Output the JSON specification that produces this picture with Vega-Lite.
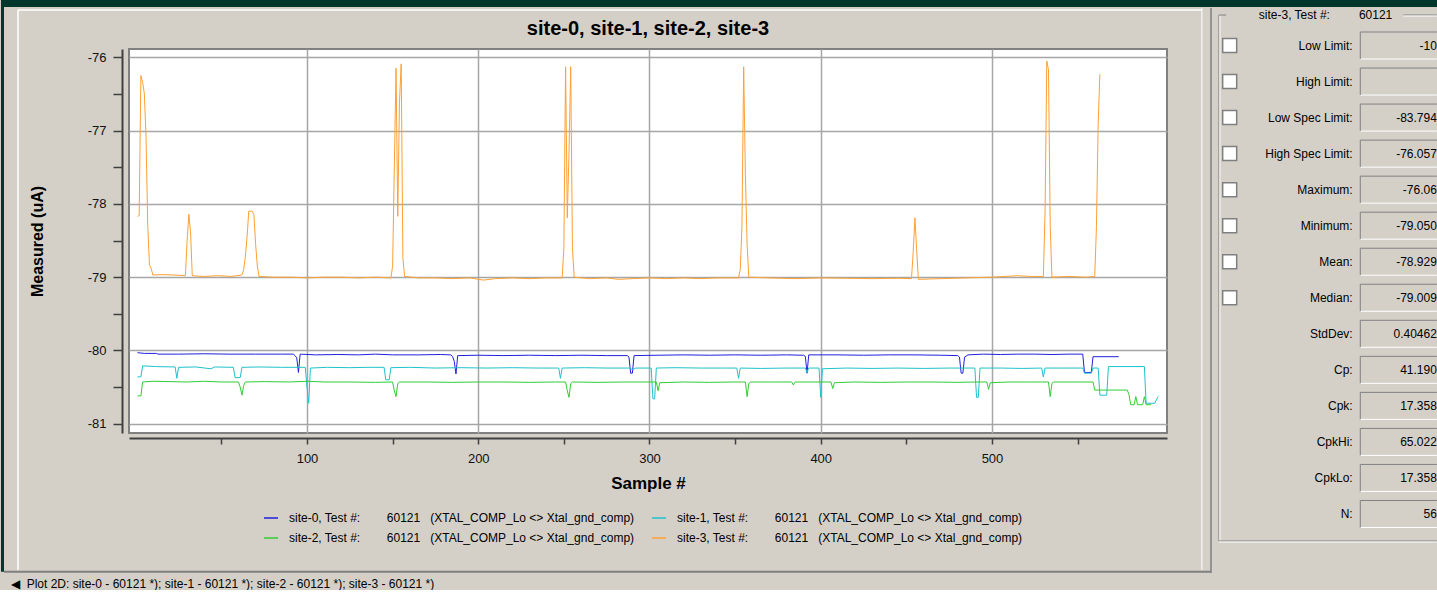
{
"$schema":"https://vega.github.io/schema/vega-lite/v6.json",
"background":"#D4D0C8",
"padding":{"left":0,"top":0,"right":0,"bottom":0},
"bounds":"flush",
"spacing":47,
"config":{"font":"Liberation Sans","view":{"stroke":null}},
"title":{"text":"◀\u00a0\u00a0Plot 2D: site-0 - 60121 *); site-1 - 60121 *); site-2 - 60121 *); site-3 - 60121 *)","orient":"bottom","anchor":"start","frame":"bounds","fontSize":12,"fontWeight":"normal","color":"#000000","offset":5,"dx":10},
"datasets":{
"lines":[
{"site":"site-0","s":1,"v":-80.03},{"site":"site-0","s":5,"v":-80.04},{"site":"site-0","s":12,"v":-80.04},{"site":"site-0","s":13,"v":-80.05},{"site":"site-0","s":25,"v":-80.05},{"site":"site-0","s":40,"v":-80.045},{"site":"site-0","s":55,"v":-80.05},{"site":"site-0","s":70,"v":-80.05},{"site":"site-0","s":85,"v":-80.05},{"site":"site-0","s":92,"v":-80.05},{"site":"site-0","s":93,"v":-80.07},{"site":"site-0","s":94,"v":-80.1},{"site":"site-0","s":95,"v":-80.3},{"site":"site-0","s":96,"v":-80.05},{"site":"site-0","s":105,"v":-80.06},{"site":"site-0","s":118,"v":-80.055},{"site":"site-0","s":130,"v":-80.06},{"site":"site-0","s":140,"v":-80.05},{"site":"site-0","s":150,"v":-80.06},{"site":"site-0","s":165,"v":-80.06},{"site":"site-0","s":178,"v":-80.055},{"site":"site-0","s":184,"v":-80.06},{"site":"site-0","s":185,"v":-80.08},{"site":"site-0","s":186,"v":-80.15},{"site":"site-0","s":187,"v":-80.32},{"site":"site-0","s":188,"v":-80.07},{"site":"site-0","s":200,"v":-80.065},{"site":"site-0","s":215,"v":-80.07},{"site":"site-0","s":230,"v":-80.065},{"site":"site-0","s":245,"v":-80.07},{"site":"site-0","s":260,"v":-80.065},{"site":"site-0","s":275,"v":-80.07},{"site":"site-0","s":287,"v":-80.07},{"site":"site-0","s":288,"v":-80.09},{"site":"site-0","s":289,"v":-80.31},{"site":"site-0","s":290,"v":-80.31},{"site":"site-0","s":291,"v":-80.07},{"site":"site-0","s":305,"v":-80.065},{"site":"site-0","s":320,"v":-80.06},{"site":"site-0","s":335,"v":-80.065},{"site":"site-0","s":350,"v":-80.06},{"site":"site-0","s":365,"v":-80.065},{"site":"site-0","s":380,"v":-80.06},{"site":"site-0","s":390,"v":-80.065},{"site":"site-0","s":391,"v":-80.08},{"site":"site-0","s":392,"v":-80.31},{"site":"site-0","s":393,"v":-80.06},{"site":"site-0","s":410,"v":-80.06},{"site":"site-0","s":425,"v":-80.065},{"site":"site-0","s":440,"v":-80.06},{"site":"site-0","s":455,"v":-80.06},{"site":"site-0","s":470,"v":-80.065},{"site":"site-0","s":480,"v":-80.07},{"site":"site-0","s":481,"v":-80.09},{"site":"site-0","s":482,"v":-80.31},{"site":"site-0","s":483,"v":-80.31},{"site":"site-0","s":484,"v":-80.09},{"site":"site-0","s":486,"v":-80.06},{"site":"site-0","s":495,"v":-80.05},{"site":"site-0","s":505,"v":-80.055},{"site":"site-0","s":515,"v":-80.05},{"site":"site-0","s":525,"v":-80.05},{"site":"site-0","s":535,"v":-80.055},{"site":"site-0","s":545,"v":-80.05},{"site":"site-0","s":553,"v":-80.05},{"site":"site-0","s":554,"v":-80.3},{"site":"site-0","s":558,"v":-80.3},{"site":"site-0","s":559,"v":-80.085},{"site":"site-0","s":574,"v":-80.085},
{"site":"site-1","s":1,"v":-80.36},{"site":"site-1","s":3,"v":-80.36},{"site":"site-1","s":4,"v":-80.21},{"site":"site-1","s":12,"v":-80.22},{"site":"site-1","s":23,"v":-80.225},{"site":"site-1","s":24,"v":-80.38},{"site":"site-1","s":25,"v":-80.23},{"site":"site-1","s":35,"v":-80.225},{"site":"site-1","s":44,"v":-80.25},{"site":"site-1","s":46,"v":-80.225},{"site":"site-1","s":57,"v":-80.23},{"site":"site-1","s":58,"v":-80.37},{"site":"site-1","s":61,"v":-80.37},{"site":"site-1","s":62,"v":-80.23},{"site":"site-1","s":72,"v":-80.225},{"site":"site-1","s":85,"v":-80.23},{"site":"site-1","s":99,"v":-80.23},{"site":"site-1","s":100,"v":-80.5},{"site":"site-1","s":101,"v":-80.72},{"site":"site-1","s":102,"v":-80.24},{"site":"site-1","s":112,"v":-80.23},{"site":"site-1","s":125,"v":-80.235},{"site":"site-1","s":135,"v":-80.23},{"site":"site-1","s":145,"v":-80.23},{"site":"site-1","s":146,"v":-80.4},{"site":"site-1","s":148,"v":-80.4},{"site":"site-1","s":149,"v":-80.235},{"site":"site-1","s":160,"v":-80.23},{"site":"site-1","s":175,"v":-80.24},{"site":"site-1","s":190,"v":-80.235},{"site":"site-1","s":205,"v":-80.24},{"site":"site-1","s":220,"v":-80.235},{"site":"site-1","s":235,"v":-80.24},{"site":"site-1","s":247,"v":-80.24},{"site":"site-1","s":248,"v":-80.38},{"site":"site-1","s":249,"v":-80.24},{"site":"site-1","s":262,"v":-80.235},{"site":"site-1","s":275,"v":-80.24},{"site":"site-1","s":288,"v":-80.24},{"site":"site-1","s":290,"v":-80.26},{"site":"site-1","s":292,"v":-80.24},{"site":"site-1","s":301,"v":-80.24},{"site":"site-1","s":302,"v":-80.66},{"site":"site-1","s":303,"v":-80.66},{"site":"site-1","s":304,"v":-80.24},{"site":"site-1","s":315,"v":-80.235},{"site":"site-1","s":330,"v":-80.24},{"site":"site-1","s":345,"v":-80.24},{"site":"site-1","s":351,"v":-80.24},{"site":"site-1","s":352,"v":-80.38},{"site":"site-1","s":353,"v":-80.24},{"site":"site-1","s":365,"v":-80.245},{"site":"site-1","s":380,"v":-80.24},{"site":"site-1","s":391,"v":-80.24},{"site":"site-1","s":392,"v":-80.3},{"site":"site-1","s":393,"v":-80.24},{"site":"site-1","s":399,"v":-80.24},{"site":"site-1","s":400,"v":-80.64},{"site":"site-1","s":401,"v":-80.25},{"site":"site-1","s":415,"v":-80.24},{"site":"site-1","s":430,"v":-80.245},{"site":"site-1","s":445,"v":-80.24},{"site":"site-1","s":460,"v":-80.245},{"site":"site-1","s":475,"v":-80.24},{"site":"site-1","s":490,"v":-80.24},{"site":"site-1","s":491,"v":-80.64},{"site":"site-1","s":492,"v":-80.64},{"site":"site-1","s":493,"v":-80.24},{"site":"site-1","s":505,"v":-80.24},{"site":"site-1","s":518,"v":-80.245},{"site":"site-1","s":529,"v":-80.24},{"site":"site-1","s":530,"v":-80.36},{"site":"site-1","s":531,"v":-80.24},{"site":"site-1","s":542,"v":-80.24},{"site":"site-1","s":553,"v":-80.24},{"site":"site-1","s":554,"v":-80.31},{"site":"site-1","s":558,"v":-80.31},{"site":"site-1","s":559,"v":-80.24},{"site":"site-1","s":562,"v":-80.24},{"site":"site-1","s":563,"v":-80.61},{"site":"site-1","s":567,"v":-80.61},{"site":"site-1","s":568,"v":-80.22},{"site":"site-1","s":589,"v":-80.22},{"site":"site-1","s":590,"v":-80.72},{"site":"site-1","s":595,"v":-80.72},{"site":"site-1","s":597,"v":-80.63},
{"site":"site-2","s":1,"v":-80.62},{"site":"site-2","s":3,"v":-80.62},{"site":"site-2","s":4,"v":-80.43},{"site":"site-2","s":10,"v":-80.42},{"site":"site-2","s":20,"v":-80.425},{"site":"site-2","s":30,"v":-80.43},{"site":"site-2","s":40,"v":-80.42},{"site":"site-2","s":50,"v":-80.43},{"site":"site-2","s":60,"v":-80.43},{"site":"site-2","s":61,"v":-80.5},{"site":"site-2","s":62,"v":-80.61},{"site":"site-2","s":63,"v":-80.48},{"site":"site-2","s":64,"v":-80.43},{"site":"site-2","s":75,"v":-80.425},{"site":"site-2","s":90,"v":-80.43},{"site":"site-2","s":100,"v":-80.42},{"site":"site-2","s":110,"v":-80.43},{"site":"site-2","s":125,"v":-80.43},{"site":"site-2","s":140,"v":-80.435},{"site":"site-2","s":150,"v":-80.43},{"site":"site-2","s":151,"v":-80.55},{"site":"site-2","s":152,"v":-80.63},{"site":"site-2","s":153,"v":-80.45},{"site":"site-2","s":154,"v":-80.43},{"site":"site-2","s":170,"v":-80.43},{"site":"site-2","s":185,"v":-80.435},{"site":"site-2","s":200,"v":-80.43},{"site":"site-2","s":215,"v":-80.43},{"site":"site-2","s":230,"v":-80.435},{"site":"site-2","s":245,"v":-80.43},{"site":"site-2","s":251,"v":-80.43},{"site":"site-2","s":252,"v":-80.55},{"site":"site-2","s":253,"v":-80.64},{"site":"site-2","s":254,"v":-80.45},{"site":"site-2","s":255,"v":-80.43},{"site":"site-2","s":270,"v":-80.435},{"site":"site-2","s":285,"v":-80.43},{"site":"site-2","s":295,"v":-80.43},{"site":"site-2","s":304,"v":-80.43},{"site":"site-2","s":305,"v":-80.55},{"site":"site-2","s":306,"v":-80.44},{"site":"site-2","s":320,"v":-80.43},{"site":"site-2","s":335,"v":-80.435},{"site":"site-2","s":350,"v":-80.43},{"site":"site-2","s":356,"v":-80.43},{"site":"site-2","s":357,"v":-80.63},{"site":"site-2","s":358,"v":-80.45},{"site":"site-2","s":359,"v":-80.43},{"site":"site-2","s":370,"v":-80.43},{"site":"site-2","s":383,"v":-80.43},{"site":"site-2","s":384,"v":-80.47},{"site":"site-2","s":385,"v":-80.43},{"site":"site-2","s":395,"v":-80.43},{"site":"site-2","s":406,"v":-80.43},{"site":"site-2","s":407,"v":-80.52},{"site":"site-2","s":408,"v":-80.44},{"site":"site-2","s":420,"v":-80.43},{"site":"site-2","s":435,"v":-80.435},{"site":"site-2","s":450,"v":-80.43},{"site":"site-2","s":465,"v":-80.43},{"site":"site-2","s":480,"v":-80.435},{"site":"site-2","s":490,"v":-80.43},{"site":"site-2","s":497,"v":-80.43},{"site":"site-2","s":498,"v":-80.53},{"site":"site-2","s":499,"v":-80.44},{"site":"site-2","s":510,"v":-80.43},{"site":"site-2","s":522,"v":-80.43},{"site":"site-2","s":533,"v":-80.43},{"site":"site-2","s":534,"v":-80.63},{"site":"site-2","s":535,"v":-80.45},{"site":"site-2","s":536,"v":-80.43},{"site":"site-2","s":548,"v":-80.43},{"site":"site-2","s":559,"v":-80.43},{"site":"site-2","s":560,"v":-80.54},{"site":"site-2","s":579,"v":-80.54},{"site":"site-2","s":580,"v":-80.6},{"site":"site-2","s":581,"v":-80.74},{"site":"site-2","s":583,"v":-80.74},{"site":"site-2","s":584,"v":-80.63},{"site":"site-2","s":585,"v":-80.74},{"site":"site-2","s":588,"v":-80.74},{"site":"site-2","s":589,"v":-80.63},{"site":"site-2","s":590,"v":-80.74},{"site":"site-2","s":593,"v":-80.74},
{"site":"site-3","s":1,"v":-78.17},{"site":"site-3","s":2,"v":-78.16},{"site":"site-3","s":3,"v":-76.25},{"site":"site-3","s":4,"v":-76.34},{"site":"site-3","s":5,"v":-76.49},{"site":"site-3","s":6,"v":-77.08},{"site":"site-3","s":7,"v":-78.28},{"site":"site-3","s":8,"v":-78.84},{"site":"site-3","s":9,"v":-78.88},{"site":"site-3","s":10,"v":-78.97},{"site":"site-3","s":16,"v":-78.965},{"site":"site-3","s":22,"v":-78.97},{"site":"site-3","s":29,"v":-78.98},{"site":"site-3","s":30,"v":-78.5},{"site":"site-3","s":31,"v":-78.14},{"site":"site-3","s":32,"v":-78.38},{"site":"site-3","s":33,"v":-78.98},{"site":"site-3","s":40,"v":-78.99},{"site":"site-3","s":48,"v":-78.98},{"site":"site-3","s":56,"v":-78.99},{"site":"site-3","s":62,"v":-78.97},{"site":"site-3","s":63,"v":-78.9},{"site":"site-3","s":64,"v":-78.72},{"site":"site-3","s":65,"v":-78.45},{"site":"site-3","s":66,"v":-78.1},{"site":"site-3","s":68,"v":-78.1},{"site":"site-3","s":69,"v":-78.15},{"site":"site-3","s":70,"v":-78.55},{"site":"site-3","s":71,"v":-78.85},{"site":"site-3","s":72,"v":-78.99},{"site":"site-3","s":80,"v":-79.0},{"site":"site-3","s":90,"v":-79.0},{"site":"site-3","s":100,"v":-79.01},{"site":"site-3","s":110,"v":-79.0},{"site":"site-3","s":120,"v":-79.0},{"site":"site-3","s":130,"v":-79.01},{"site":"site-3","s":140,"v":-79.0},{"site":"site-3","s":149,"v":-79.01},{"site":"site-3","s":150,"v":-78.85},{"site":"site-3","s":151,"v":-77.5},{"site":"site-3","s":152,"v":-76.15},{"site":"site-3","s":153,"v":-78.17},{"site":"site-3","s":154,"v":-76.62},{"site":"site-3","s":155,"v":-76.09},{"site":"site-3","s":156,"v":-78.74},{"site":"site-3","s":157,"v":-78.99},{"site":"site-3","s":165,"v":-79.01},{"site":"site-3","s":175,"v":-79.01},{"site":"site-3","s":185,"v":-79.02},{"site":"site-3","s":195,"v":-79.01},{"site":"site-3","s":203,"v":-79.04},{"site":"site-3","s":210,"v":-79.02},{"site":"site-3","s":220,"v":-79.01},{"site":"site-3","s":230,"v":-79.02},{"site":"site-3","s":240,"v":-79.01},{"site":"site-3","s":249,"v":-79.01},{"site":"site-3","s":250,"v":-78.6},{"site":"site-3","s":251,"v":-76.13},{"site":"site-3","s":252,"v":-78.19},{"site":"site-3","s":253,"v":-77.3},{"site":"site-3","s":254,"v":-76.13},{"site":"site-3","s":255,"v":-78.6},{"site":"site-3","s":256,"v":-79.0},{"site":"site-3","s":265,"v":-79.02},{"site":"site-3","s":275,"v":-79.01},{"site":"site-3","s":282,"v":-79.03},{"site":"site-3","s":290,"v":-79.02},{"site":"site-3","s":300,"v":-79.01},{"site":"site-3","s":310,"v":-79.02},{"site":"site-3","s":320,"v":-79.01},{"site":"site-3","s":330,"v":-79.02},{"site":"site-3","s":340,"v":-79.01},{"site":"site-3","s":352,"v":-79.01},{"site":"site-3","s":353,"v":-78.9},{"site":"site-3","s":354,"v":-78.3},{"site":"site-3","s":355,"v":-76.13},{"site":"site-3","s":356,"v":-77.6},{"site":"site-3","s":357,"v":-78.55},{"site":"site-3","s":358,"v":-79.0},{"site":"site-3","s":370,"v":-79.01},{"site":"site-3","s":385,"v":-79.02},{"site":"site-3","s":400,"v":-79.01},{"site":"site-3","s":415,"v":-79.015},{"site":"site-3","s":430,"v":-79.02},{"site":"site-3","s":445,"v":-79.015},{"site":"site-3","s":453,"v":-79.02},{"site":"site-3","s":454,"v":-78.65},{"site":"site-3","s":455,"v":-78.19},{"site":"site-3","s":456,"v":-78.62},{"site":"site-3","s":457,"v":-79.03},{"site":"site-3","s":470,"v":-79.02},{"site":"site-3","s":485,"v":-79.01},{"site":"site-3","s":500,"v":-79.0},{"site":"site-3","s":515,"v":-78.98},{"site":"site-3","s":522,"v":-78.99},{"site":"site-3","s":530,"v":-78.99},{"site":"site-3","s":531,"v":-78.1},{"site":"site-3","s":532,"v":-76.05},{"site":"site-3","s":533,"v":-76.17},{"site":"site-3","s":534,"v":-78.3},{"site":"site-3","s":535,"v":-79.0},{"site":"site-3","s":545,"v":-78.99},{"site":"site-3","s":555,"v":-79.0},{"site":"site-3","s":560,"v":-78.99},{"site":"site-3","s":561,"v":-78.31},{"site":"site-3","s":562,"v":-76.91},{"site":"site-3","s":563,"v":-76.23}
],
"stats":[
{"row":1,"label":"Low Limit:","value":"-10","check":1},
{"row":2,"label":"High Limit:","value":"","check":1},
{"row":3,"label":"Low Spec Limit:","value":"-83.794","check":1},
{"row":4,"label":"High Spec Limit:","value":"-76.057","check":1},
{"row":5,"label":"Maximum:","value":"-76.06","check":1},
{"row":6,"label":"Minimum:","value":"-79.050","check":1},
{"row":7,"label":"Mean:","value":"-78.929","check":1},
{"row":8,"label":"Median:","value":"-79.009","check":1},
{"row":9,"label":"StdDev:","value":"0.40462","check":0},
{"row":10,"label":"Cp:","value":"41.190","check":0},
{"row":11,"label":"Cpk:","value":"17.358","check":0},
{"row":12,"label":"CpkHi:","value":"65.022","check":0},
{"row":13,"label":"CpkLo:","value":"17.358","check":0},
{"row":14,"label":"N:","value":"56","check":0}
]
},
"hconcat":[
{
"width":1038,"height":384,
"view":{"fill":"#FFFFFF","stroke":"#808080","strokeWidth":2},
"title":{"text":"site-0, site-1, site-2, site-3","fontSize":20,"fontWeight":"bold","color":"#000000","offset":10,"anchor":"middle","font":"Liberation Sans"},
"data":{"name":"lines"},
"mark":{"type":"line","strokeWidth":1,"clip":true},
"encoding":{
"x":{"field":"s","type":"quantitative","scale":{"domain":[-3.94,602.2],"nice":false,"zero":false},
"axis":{"title":"Sample #","values":[50,100,150,200,250,300,350,400,450,500,550],"labelExpr":"datum.value % 100 === 0 ? '' + datum.value : ''","labelOverlap":false,"offset":5,"tickSize":6,"tickColor":"#404040","tickWidth":1.5,"labelPadding":8,"labelFontSize":13,"labelColor":"#111111","labelFont":"Liberation Sans","titleFont":"Liberation Sans","titleFontSize":17,"titleFontWeight":"bold","titleColor":"#000000","titlePadding":10,"domainColor":"#404040","domainWidth":2,"gridColor":"#A6A6A6","gridWidth":1.5,"gridOpacity":{"condition":{"test":"datum.value % 100 !== 0","value":0},"value":1}}},
"y":{"field":"v","type":"quantitative","scale":{"domain":[-81.126,-75.887],"nice":false,"zero":false},
"axis":{"title":"Measured (uA)","values":[-81,-80.5,-80,-79.5,-79,-78.5,-78,-77.5,-77,-76.5,-76],"labelExpr":"datum.value % 1 === 0 ? '' + datum.value : ''","labelOverlap":false,"offset":7,"tickSize":9,"tickColor":"#404040","tickWidth":1.5,"labelPadding":7,"labelFontSize":13,"labelColor":"#111111","labelFont":"Liberation Sans","titleFont":"Liberation Sans","titleFontSize":16,"titleFontWeight":"bold","titleColor":"#000000","titlePadding":42,"domainColor":"#404040","domainWidth":2,"gridColor":"#A6A6A6","gridWidth":1.5,"gridOpacity":{"condition":{"test":"datum.value % 1 !== 0","value":0},"value":1}}},
"color":{"field":"site","type":"nominal","scale":{"domain":["site-0","site-1","site-2","site-3"],"range":["#2020DD","#1FC2CC","#33CC33","#FFA033"]},
"legend":{"orient":"none","legendX":134,"legendY":461,"columns":2,"direction":"horizontal","title":null,"symbolType":"stroke","symbolSize":196,"symbolStrokeWidth":1.5,"labelFontSize":12,"labelFont":"Liberation Sans","labelColor":"#000000","labelOffset":10,"labelLimit":0,"columnPadding":14,"rowPadding":6,"padding":0,
"labelExpr":"datum.label + ', Test #:\u00a0\u00a0\u00a0\u00a0\u00a0\u00a0\u00a0\u00a060121\u00a0\u00a0\u00a0(XTAL_COMP_Lo <> Xtal_gnd_comp)'"}}
}
},
{
"width":224,"height":492,
"view":{"stroke":null},
"data":{"name":"stats"},
"layer":[
{"data":{"values":[{}]},"mark":{"type":"rect","color":"#03362B"},
"encoding":{"x":{"datum":-5.4152,"type":"quantitative","scale":{"domain":[0,1],"nice":false,"zero":false},"axis":null},"x2":{"datum":0.9995},
"y":{"datum":-0.2626,"type":"quantitative","scale":{"domain":[1.097,14.75],"reverse":true,"nice":false,"zero":false},"axis":null},"y2":{"datum":-0.0684}}},
{"data":{"values":[{}]},"mark":{"type":"rect","color":"#03362B"},
"encoding":{"x":{"datum":-5.4152,"type":"quantitative"},"x2":{"datum":-5.4018},"y":{"datum":-0.2626,"type":"quantitative"},"y2":{"datum":15.6}}},
{"data":{"values":[{}]},"mark":{"type":"rule","color":"#808080","strokeWidth":2},
"encoding":{"x":{"datum":-5.4018,"type":"quantitative"},"x2":{"datum":-0.0134},"y":{"datum":15.6,"type":"quantitative"}}},
{"data":{"values":[{}]},"mark":{"type":"rule","color":"#FFFFFF","strokeWidth":1.5},
"encoding":{"x":{"datum":-5.3393,"type":"quantitative"},"y":{"datum":0.0148,"type":"quantitative"},"y2":{"datum":15.55}}},
{"data":{"values":[{}]},"mark":{"type":"rule","color":"#FFFFFF","strokeWidth":1.5},
"encoding":{"x":{"datum":-5.3393,"type":"quantitative"},"x2":{"datum":-0.054},"y":{"datum":0.0148,"type":"quantitative"}}},
{"data":{"values":[{}]},"mark":{"type":"rule","color":"#FFFFFF","strokeWidth":1},
"encoding":{"x":{"datum":-0.054,"type":"quantitative"},"y":{"datum":-0.04,"type":"quantitative"},"y2":{"datum":15.55}}},
{"data":{"values":[{}]},"mark":{"type":"rule","color":"#808080","strokeWidth":1.5},
"encoding":{"x":{"datum":-0.0134,"type":"quantitative"},"y":{"datum":-0.04,"type":"quantitative"},"y2":{"datum":15.64}}},
{"data":{"values":[{}]},"mark":{"type":"rule","color":"#808080","strokeWidth":1},
"encoding":{"x":{"datum":0.022,"type":"quantitative"},"y":{"datum":0.154,"type":"quantitative"},"y2":{"datum":14.75}}},
{"data":{"values":[{}]},"mark":{"type":"rule","color":"#FFFFFF","strokeWidth":1,"xOffset":1},
"encoding":{"x":{"datum":0.022,"type":"quantitative"},"y":{"datum":0.154,"type":"quantitative"},"y2":{"datum":14.75}}},
{"data":{"values":[{}]},"mark":{"type":"rule","color":"#808080","strokeWidth":1},
"encoding":{"x":{"datum":0.022,"type":"quantitative"},"x2":{"datum":0.054},"y":{"datum":0.154,"type":"quantitative"}}},
{"data":{"values":[{}]},"mark":{"type":"rule","color":"#808080","strokeWidth":1},
"encoding":{"x":{"datum":0.845,"type":"quantitative"},"x2":{"datum":0.995},"y":{"datum":0.154,"type":"quantitative"}}},
{"data":{"values":[{}]},"mark":{"type":"rule","color":"#FFFFFF","strokeWidth":1,"yOffset":1},
"encoding":{"x":{"datum":0.845,"type":"quantitative"},"x2":{"datum":0.995},"y":{"datum":0.154,"type":"quantitative"}}},
{"data":{"values":[{}]},"mark":{"type":"rule","color":"#808080","strokeWidth":1},
"encoding":{"x":{"datum":0.022,"type":"quantitative"},"x2":{"datum":0.995},"y":{"datum":14.75,"type":"quantitative"}}},
{"data":{"values":[{}]},"mark":{"type":"rule","color":"#FFFFFF","strokeWidth":1,"yOffset":1},
"encoding":{"x":{"datum":0.022,"type":"quantitative"},"x2":{"datum":0.995},"y":{"datum":14.75,"type":"quantitative"}}},
{"data":{"values":[{}]},"mark":{"type":"text","align":"left","baseline":"middle","fontSize":12,"font":"Liberation Sans","color":"#000000"},
"encoding":{"x":{"datum":0.2,"type":"quantitative"},"y":{"datum":0.154,"type":"quantitative"},"text":{"value":"site-3, Test #:"}}},
{"data":{"values":[{}]},"mark":{"type":"text","align":"left","baseline":"middle","fontSize":12,"font":"Liberation Sans","color":"#000000"},
"encoding":{"x":{"datum":0.647,"type":"quantitative"},"y":{"datum":0.154,"type":"quantitative"},"text":{"value":"60121"}}},
{"transform":[{"filter":"datum.check == 1"}],"mark":{"type":"point","shape":"square","filled":true,"size":196,"fill":"#FFFFFF","stroke":"#808080","strokeWidth":1.5,"opacity":1},
"encoding":{"x":{"datum":0.07,"type":"quantitative"},"y":{"field":"row","type":"quantitative"}}},
{"mark":{"type":"text","align":"right","baseline":"middle","fontSize":12,"font":"Liberation Sans","color":"#000000"},
"encoding":{"x":{"datum":0.619,"type":"quantitative"},"y":{"field":"row","type":"quantitative"},"text":{"field":"label"}}},
{"mark":{"type":"rule","color":"#808080","strokeWidth":1,"yOffset":-13.5},
"encoding":{"x":{"datum":0.653,"type":"quantitative"},"x2":{"datum":0.995},"y":{"field":"row","type":"quantitative"}}},
{"mark":{"type":"rule","color":"#FFFFFF","strokeWidth":1,"yOffset":13.5},
"encoding":{"x":{"datum":0.653,"type":"quantitative"},"x2":{"datum":0.995},"y":{"field":"row","type":"quantitative"}}},
{"mark":{"type":"rule","color":"#808080","strokeWidth":1,"yOffset":-13.5,"y2Offset":13.5},
"encoding":{"x":{"datum":0.653,"type":"quantitative"},"y":{"field":"row","type":"quantitative"},"y2":{"field":"row"}}},
{"mark":{"type":"text","align":"right","baseline":"middle","fontSize":12,"font":"Liberation Sans","color":"#000000"},
"encoding":{"x":{"datum":0.995,"type":"quantitative"},"y":{"field":"row","type":"quantitative"},"text":{"field":"value"}}}
]
}
]
}
